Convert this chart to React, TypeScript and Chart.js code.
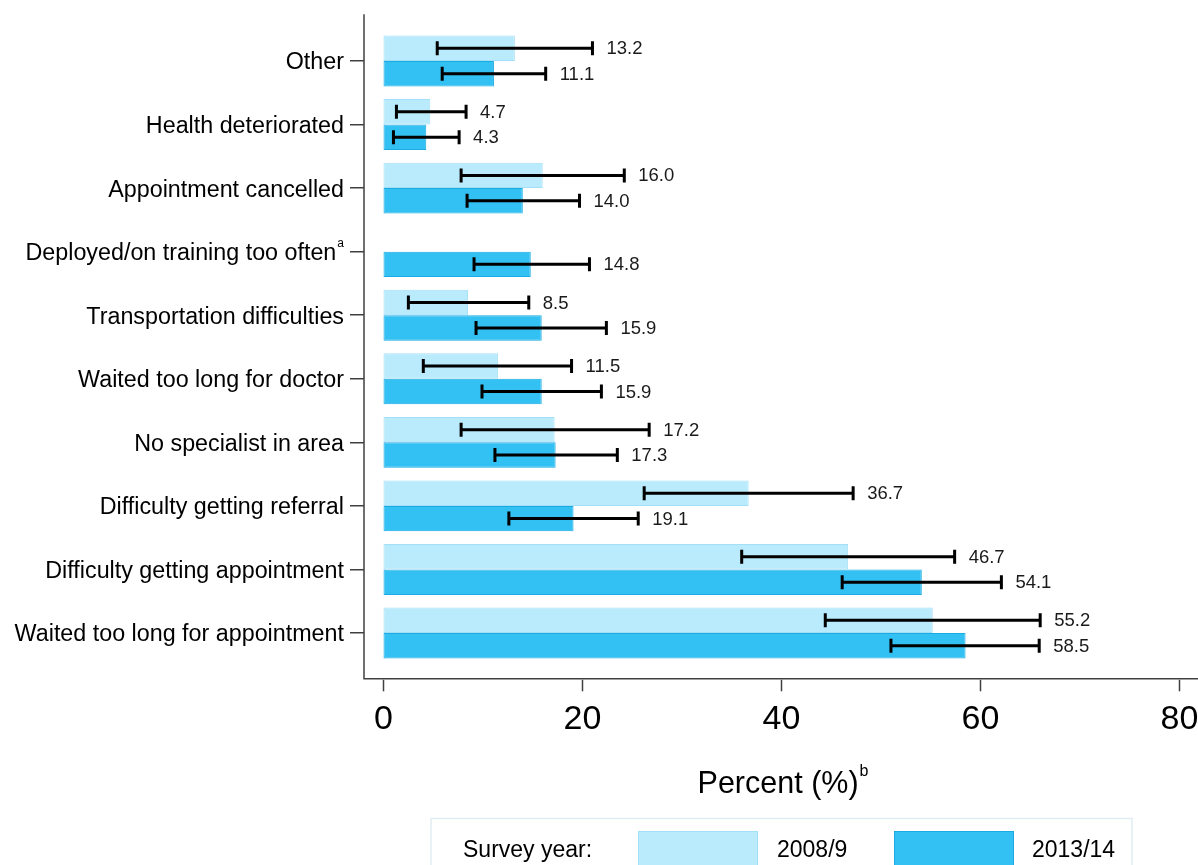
import { useEffect, useRef } from 'react';
import { Chart, registerables } from 'chart.js';

Chart.register(...registerables);

// Reasons for not getting care, by survey year (percent with 95% CI)
const categories = [
  'Other',
  'Health deteriorated',
  'Appointment cancelled',
  'Deployed/on training too often',
  'Transportation difficulties',
  'Waited too long for doctor',
  'No specialist in area',
  'Difficulty getting referral',
  'Difficulty getting appointment',
  'Waited too long for appointment',
];
const categoryNotes = ['', '', '', 'a', '', '', '', '', '', ''];

const seriesNames = ['2008/9', '2013/14'];

const pct2008 = [13.2, 4.7, 16.0, null, 8.5, 11.5, 17.2, 36.7, 46.7, 55.2];
const ciLow2008 = [5.4, 1.3, 7.8, null, 2.5, 4.0, 7.8, 26.2, 36.0, 44.4];
const ciHigh2008 = [21.0, 8.3, 24.2, null, 14.6, 18.9, 26.7, 47.2, 57.4, 66.0];

const pct2013 = [11.1, 4.3, 14.0, 14.8, 15.9, 15.9, 17.3, 19.1, 54.1, 58.5];
const ciLow2013 = [5.9, 1.0, 8.4, 9.1, 9.3, 9.9, 11.2, 12.6, 46.1, 51.0];
const ciHigh2013 = [16.3, 7.6, 19.7, 20.7, 22.4, 21.9, 23.5, 25.6, 62.1, 65.9];

const xTicks = [0, 20, 40, 60, 80];
const xTitle = 'Percent (%)';
const xTitleNote = 'b';
const legendTitle = 'Survey year:';

const FONT = '"Liberation Sans", Arial, sans-serif';
const TEXT = '#000000';
const AXIS = '#404040';

const intervals = [
  { low: ciLow2008, high: ciHigh2008, value: pct2008 },
  { low: ciLow2013, high: ciHigh2013, value: pct2013 },
];

const decorations = {
  id: 'decorations',
  afterDatasetsDraw(chart: any) {
    const { ctx, chartArea } = chart;
    const xs = chart.scales.x;
    const ys = chart.scales.y;
    const frameTop = chartArea.top - 15;
    const frameBottom = chartArea.bottom + 14;
    ctx.save();

    // plot frame: left axis line and bottom line
    ctx.strokeStyle = AXIS;
    ctx.lineWidth = 1.5;
    ctx.beginPath();
    ctx.moveTo(chartArea.left, frameTop);
    ctx.lineTo(chartArea.left, frameBottom);
    ctx.lineTo(chartArea.right, frameBottom);
    ctx.stroke();

    // x axis ticks and labels, set apart below the frame
    ctx.fillStyle = TEXT;
    ctx.font = `34px ${FONT}`;
    ctx.textAlign = 'center';
    ctx.textBaseline = 'alphabetic';
    xs.ticks.forEach((t: any) => {
      const px = xs.getPixelForValue(t.value);
      ctx.beginPath();
      ctx.moveTo(px, frameBottom + 1);
      ctx.lineTo(px, frameBottom + 12.5);
      ctx.stroke();
      ctx.fillText(String(t.value), px, frameBottom + 50);
    });

    // category labels with optional superscript note
    ctx.textBaseline = 'middle';
    categories.forEach((label, i) => {
      const py = ys.getPixelForValue(i) + 2;
      const right = chartArea.left - 20;
      const note = categoryNotes[i];
      let noteW = 0;
      if (note) {
        ctx.font = `12px ${FONT}`;
        noteW = ctx.measureText(note).width + 1;
        ctx.textAlign = 'left';
        ctx.fillText(note, right - noteW + 1, py - 10);
      }
      ctx.font = `23.3px ${FONT}`;
      ctx.textAlign = 'right';
      ctx.fillText(label, right - noteW, py);
    });

    // confidence intervals and value labels
    ctx.strokeStyle = '#000000';
    ctx.lineWidth = 3;
    ctx.font = `18.5px ${FONT}`;
    ctx.fillStyle = '#1a1a1a';
    ctx.textAlign = 'left';
    intervals.forEach((ci, d) => {
      const meta = chart.getDatasetMeta(d);
      ci.value.forEach((v, j) => {
        const lo = ci.low[j];
        const hi = ci.high[j];
        if (v == null || lo == null || hi == null) return;
        const py = meta.data[j].y;
        const x1 = xs.getPixelForValue(lo);
        const x2 = xs.getPixelForValue(hi);
        ctx.beginPath();
        ctx.moveTo(x1, py);
        ctx.lineTo(x2, py);
        ctx.moveTo(x1, py - 7);
        ctx.lineTo(x1, py + 7);
        ctx.moveTo(x2, py - 7);
        ctx.lineTo(x2, py + 7);
        ctx.stroke();
        ctx.fillText(v.toFixed(1), x2 + 14, py + 1);
      });
    });

    // x axis title with superscript note
    const cx = (chartArea.left + chartArea.right) / 2 + 2;
    ctx.fillStyle = TEXT;
    ctx.font = `30.5px ${FONT}`;
    const wMain = ctx.measureText(xTitle).width;
    ctx.font = `16px ${FONT}`;
    const wNote = ctx.measureText(xTitleNote).width;
    const start = cx - (wMain + 1 + wNote) / 2;
    ctx.textBaseline = 'alphabetic';
    ctx.font = `30.5px ${FONT}`;
    ctx.fillText(xTitle, start, 793);
    ctx.font = `16px ${FONT}`;
    ctx.fillText(xTitleNote, start + wMain + 1, 776);

    // legend
    const ds = chart.data.datasets;
    const boxL = cx - 352;
    ctx.strokeStyle = '#e1edf2';
    ctx.lineWidth = 1.5;
    ctx.strokeRect(boxL, 818.5, 701, 70);
    ctx.font = `23px ${FONT}`;
    ctx.fillStyle = TEXT;
    ctx.fillText(legendTitle, boxL + 32, 857);
    const items = [
      { sw: boxL + 207, tx: boxL + 346 },
      { sw: boxL + 463, tx: boxL + 601 },
    ];
    items.forEach((it, k) => {
      ctx.fillStyle = ds[k].backgroundColor;
      ctx.fillRect(it.sw, 831, 120, 40);
      ctx.strokeStyle = ds[k].borderColor;
      ctx.lineWidth = 1;
      ctx.strokeRect(it.sw + 0.5, 831.5, 119, 40);
      ctx.fillStyle = TEXT;
      ctx.fillText(ds[k].label, it.tx, 857);
    });

    ctx.restore();
  },
};

export default function App() {
  const canvasRef = useRef<HTMLCanvasElement>(null);

  useEffect(() => {
    const canvas = canvasRef.current;
    if (!canvas) return;
    const chart = new Chart(canvas, {
      type: 'bar',
      data: {
        labels: categories,
        datasets: [
          {
            label: seriesNames[0],
            data: pct2008,
            backgroundColor: '#b9ebfd',
            borderColor: '#a3e0f7',
            borderWidth: 1,
            borderSkipped: false,
            categoryPercentage: 0.8,
            barPercentage: 1.0,
          },
          {
            label: seriesNames[1],
            data: pct2013,
            backgroundColor: '#33c0f3',
            borderColor: '#1aabe3',
            borderWidth: 1,
            borderSkipped: false,
            categoryPercentage: 0.8,
            barPercentage: 1.0,
          },
        ],
      },
      options: {
        indexAxis: 'y',
        responsive: false,
        animation: false,
        devicePixelRatio: 1,
        layout: { padding: { top: 29.2, left: 0, right: 0, bottom: 0 } },
        plugins: {
          legend: { display: false },
          tooltip: { enabled: false },
          title: { display: false },
        },
        scales: {
          x: {
            type: 'linear',
            position: 'bottom',
            min: -1.96,
            max: 81.86,
            afterBuildTicks: (scale: any) => {
              scale.ticks = xTicks.map((value) => ({ value }));
            },
            afterFit: (scale: any) => {
              scale.height = 200.2;
            },
            grid: { display: false },
            border: { display: false },
            ticks: { display: false },
          },
          y: {
            type: 'category',
            position: 'left',
            offset: true,
            afterFit: (scale: any) => {
              scale.width = 364;
            },
            grid: {
              display: true,
              drawOnChartArea: false,
              drawTicks: true,
              tickLength: 14,
              offset: false,
              color: AXIS,
              lineWidth: 1.5,
            },
            border: { display: false },
            ticks: { display: false },
          },
        },
      },
      plugins: [decorations],
    });
    return () => chart.destroy();
  }, []);

  return (
    <div style={{ position: 'absolute', left: 0, top: 0, width: 1198, height: 865, background: '#ffffff' }}>
      <canvas ref={canvasRef} width={1198} height={865} style={{ display: 'block' }} />
    </div>
  );
}
